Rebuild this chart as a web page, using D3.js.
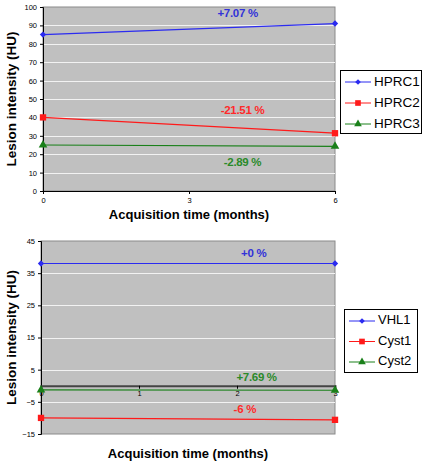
<!DOCTYPE html>
<html><head><meta charset="utf-8">
<script src="https://cdn.jsdelivr.net/npm/d3@7"></script>
<style>body{margin:0;background:#fff}svg{display:block;font-family:"Liberation Sans",Arial,sans-serif}</style>
</head><body><svg id="c" width="425" height="464"></svg>
<script>
// Top chart data
const topX = [0, 6];
const topTicksX = [0, 3, 6];
const topTicksY = [0, 10, 20, 30, 40, 50, 60, 70, 80, 90, 100];
const topSeriesNames = ["HPRC1", "HPRC2", "HPRC3"];
const hprc1 = [85, 91.0];
const hprc2 = [40, 31.4];
const hprc3 = [25, 24.3];
const topLabels = ["+7.07 %", "-21.51 %", "-2.89 %"];
const topLabelPos = [[4.0, 96], [4.1, 43.5], [4.1, 15.5]];

// Bottom chart data
const botX = [0, 3];
const botTicksX = [0, 1, 2, 3];
const botTicksY = [-15, -5, 5, 15, 25, 35, 45];
const botSeriesNames = ["VHL1", "Cyst1", "Cyst2"];
const vhl1 = [38, 38];
const cyst1 = [-10, -10.6];
const cyst2 = [-1.3, -1.4];
const botLabels = ["+0 %", "-6 %", "+7.69 %"];
const botLabelPos = [[2.17, 41], [2.08, -7.4], [2.2, 2.4]];

const colors = ["#2b2bf0", "#ff1a1a", "#1a801a"];
const labelColors = ["#3232d8", "#ff2a2a", "#2a8a2a"];
const symbols = [d3.symbolDiamond2, d3.symbolSquare, d3.symbolTriangle];
const symSize = [26, 40, 32];

const svg = d3.select("#c");

function chart(o) {
  const g = svg.append("g");
  const x = d3.scaleLinear().domain(o.xdom).range([o.left, o.right]);
  const y = d3.scaleLinear().domain(o.ydom).range([o.bottom, o.top]);
  g.append("rect").attr("x", o.left).attr("y", o.top)
    .attr("width", o.right - o.left).attr("height", o.bottom - o.top)
    .attr("fill", "#c0c0c0").attr("stroke", "#8a8a8a").attr("stroke-width", 1);
  // gridlines
  g.selectAll(".grid").data(o.yticks.filter(v => v !== o.ydom[0] && v !== o.ydom[1]))
    .enter().append("line")
    .attr("x1", o.left).attr("x2", o.right)
    .attr("y1", d => Math.round(y(d)) + 0.5).attr("y2", d => Math.round(y(d)) + 0.5)
    .attr("stroke", "#f2f2f2").attr("stroke-width", 1);
  // y axis
  const ya = d3.axisLeft(y).tickValues(o.yticks).tickFormat(d3.format("d")).tickSize(3).tickPadding(3);
  const yg = g.append("g").attr("transform", `translate(${o.left},0)`).call(ya);
  yg.select(".domain").attr("stroke", "#000");
  yg.selectAll("text").attr("font-size", 7.5).attr("fill", "#000");
  // x axis
  const xa = d3.axisBottom(x).tickValues(o.xticks).tickFormat(d3.format("d")).tickSize(o.xTickSize).tickPadding(o.xTickPad);
  const xg = g.append("g").attr("transform", `translate(0,${y(o.xAxisAt)})`).call(xa);
  xg.select(".domain").attr("stroke", o.xAxisColor).attr("stroke-width", o.xAxisWidth);
  xg.selectAll("text").attr("font-size", 7.5).attr("fill", "#000");
  xg.selectAll(".tick line").attr("stroke", "#000");
  // series
  const line = d3.line().x((d, i) => x(o.xdom[0] + i * (o.xdom[1] - o.xdom[0]))).y(d => y(d));
  o.series.forEach((s, k) => {
    g.append("path").datum(s).attr("d", line).attr("fill", "none")
      .attr("stroke", colors[k]).attr("stroke-width", 1.2);
    s.forEach((v, i) => {
      g.append("path").attr("d", d3.symbol().type(symbols[k]).size(symSize[k])())
        .attr("transform", `translate(${x(o.xdom[0] + i * (o.xdom[1] - o.xdom[0]))},${y(v)})`)
        .attr("fill", colors[k]);
    });
  });
  // percent labels
  o.labels.forEach((t, k) => {
    g.append("text").attr("x", x(o.labelPos[k][0])).attr("y", y(o.labelPos[k][1]))
      .attr("text-anchor", "middle").attr("dominant-baseline", "middle")
      .attr("font-size", 11.5).attr("font-weight", "bold").attr("letter-spacing", -0.3)
      .attr("fill", labelColors[o.labelColorIdx[k]]).text(t);
  });
  // axis titles
  g.append("text").attr("x", (o.left + o.right) / 2).attr("y", o.xTitleY)
    .attr("text-anchor", "middle").attr("font-size", 13).attr("font-weight", "bold").text("Acquisition time (months)");
  g.append("text").attr("transform", `translate(${o.yTitleX},${(o.top + o.bottom) / 2}) rotate(-90)`)
    .attr("text-anchor", "middle").attr("font-size", 13.5).attr("font-weight", "bold").text("Lesion intensity (HU)");
  // legend
  const L = o.legend;
  g.append("rect").attr("x", L.x + 0.5).attr("y", L.y + 0.5).attr("width", L.w).attr("height", L.h)
    .attr("fill", "#fff").attr("stroke", "#000").attr("stroke-width", 1);
  o.names.forEach((n, k) => {
    const yy = L.y + L.first + k * L.step;
    g.append("line").attr("x1", L.x + 5).attr("x2", L.x + 31).attr("y1", yy).attr("y2", yy)
      .attr("stroke", colors[k]).attr("stroke-width", 1);
    g.append("path").attr("d", d3.symbol().type(symbols[k]).size(symSize[k] * 0.8)())
      .attr("transform", `translate(${L.x + 18},${yy})`).attr("fill", colors[k]);
    g.append("text").attr("x", L.x + 34).attr("y", yy).attr("dominant-baseline", "middle")
      .attr("font-size", o.legendFont).attr("fill", "#000").text(n);
  });
}

chart({
  xdom: topX, ydom: [0, 100], left: 43, right: 335, top: 7, bottom: 191,
  xticks: topTicksX, yticks: topTicksY, xAxisAt: 0, xTickSize: 3, xTickPad: 4,
  xAxisColor: "#000", xAxisWidth: 1,
  series: [hprc1, hprc2, hprc3], names: topSeriesNames,
  labels: topLabels, labelPos: topLabelPos, labelColorIdx: [0, 1, 2],
  xTitleY: 219, yTitleX: 16, legendFont: 13.5,
  legend: {x: 340, y: 70, w: 81, h: 63, first: 12, step: 21}
});

chart({
  xdom: botX, ydom: [-15, 45], left: 41, right: 335, top: 241, bottom: 434,
  xticks: botTicksX, yticks: botTicksY, xAxisAt: 0, xTickSize: 3, xTickPad: 2,
  xAxisColor: "#444", xAxisWidth: 2,
  series: [vhl1, cyst1, cyst2], names: botSeriesNames,
  labels: botLabels, labelPos: botLabelPos, labelColorIdx: [0, 1, 2],
  xTitleY: 458, yTitleX: 16, legendFont: 13,
  legend: {x: 344, y: 309, w: 73, h: 63, first: 12, step: 20.5}
});
</script></body></html>
